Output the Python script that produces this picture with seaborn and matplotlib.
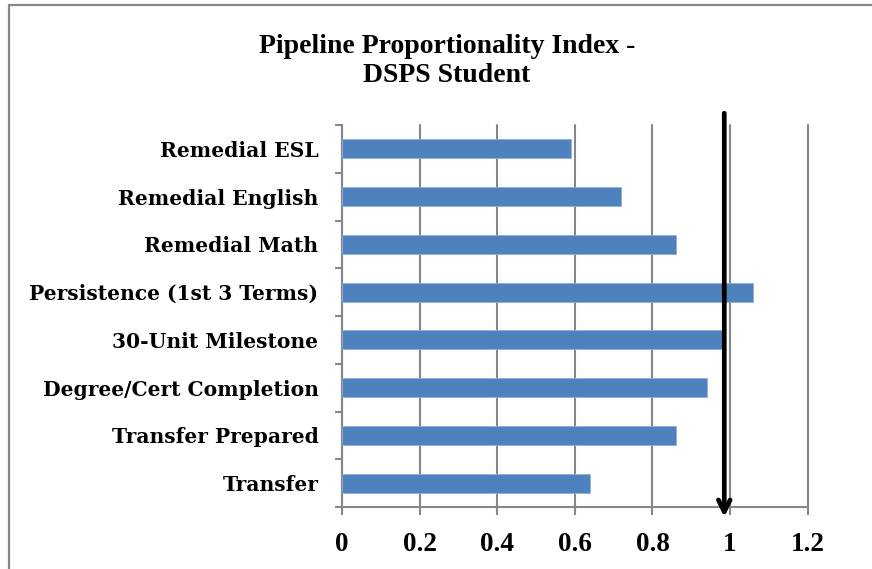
import matplotlib
matplotlib.use("Agg")
import matplotlib.pyplot as plt
import seaborn as sns
import numpy as np
from matplotlib.lines import Line2D

categories = ["Remedial ESL", "Remedial English", "Remedial Math",
              "Persistence (1st 3 Terms)", "30-Unit Milestone",
              "Degree/Cert Completion", "Transfer Prepared", "Transfer"]
values = [0.59, 0.72, 0.86, 1.06, 0.98, 0.94, 0.86, 0.64]
xticks = [0, 0.2, 0.4, 0.6, 0.8, 1, 1.2]
xtick_labels = ["0", "0.2", "0.4", "0.6", "0.8", "1", "1.2"]
title = "Pipeline Proportionality Index -\nDSPS Student"
arrow_x = 0.985

sns.set_theme(style="white")
plt.rcParams['font.family'] = ['Liberation Serif', 'DejaVu Serif']
plt.rcParams['font.weight'] = 'bold'
plt.rcParams['text.color'] = 'black'
plt.rcParams['xtick.color'] = 'black'
plt.rcParams['ytick.color'] = 'black'

W, H = 872, 569
fig = plt.figure(figsize=(W / 100, H / 100), dpi=100)
ax = fig.add_axes([342 / W, 1 - 507 / H, (807.7 - 342) / W, (507 - 125) / H])

sns.barplot(x=values, y=categories, color="#4F81BD", width=0.4, ax=ax,
            saturation=1, edgecolor="#8FAEDB", linewidth=0.6, zorder=3)

grid_c = "#878787"
ax.set_xlim(0, 1.2)
ax.set_ylim(len(categories) - 0.5, -0.5)
ax.set_xticks(xticks)
ax.set_xticklabels(xtick_labels, fontsize=19.5, fontweight='bold', color='black')
ax.xaxis.grid(True, color=grid_c, linewidth=1.5, zorder=0)
ax.yaxis.grid(False)
ax.set_axisbelow(True)
for gl in ax.get_xgridlines():
    gl.set_clip_on(False)

# y: ticks at category boundaries, labels at centers
ax.set_yticks(np.arange(-0.5, len(categories), 1.0))
ax.set_yticklabels([])
ax.set_yticks(np.arange(len(categories)), minor=True)
ax.set_yticklabels(categories, minor=True, fontsize=14.6, fontweight='bold',
                   family=['DejaVu Serif'], color='black')
ax.tick_params(axis='y', which='major', length=5, width=1.5, color=grid_c, left=True)
ax.tick_params(axis='y', which='minor', length=0, pad=17)
ax.tick_params(axis='x', length=6, width=1.5, color=grid_c, bottom=True, pad=12)
ax.set_xlabel("")
ax.set_ylabel("")

for s in ["top", "right"]:
    ax.spines[s].set_visible(False)
for s in ["left", "bottom"]:
    ax.spines[s].set_color(grid_c)
    ax.spines[s].set_linewidth(1.5)

# arrow
ax.annotate("", xy=(arrow_x, -0.026), xycoords=('data', 'axes fraction'),
            xytext=(arrow_x, 1.031), textcoords=('data', 'axes fraction'),
            arrowprops=dict(arrowstyle='->,head_length=0.7,head_width=0.35',
                            lw=3.4, color='black', shrinkA=0, shrinkB=0),
            annotation_clip=False, zorder=5)

fig.text(447 / W, 1 - 61 / H, title, ha='center', va='center', fontsize=20,
         fontweight='bold', linespacing=1.2, color='black')

# figure border (left and top)
fig.add_artist(Line2D([8.5 / W, 8.5 / W], [0, 1 - 5 / H], color="#888888", lw=1.6,
                      transform=fig.transFigure))
fig.add_artist(Line2D([8.5 / W, 1], [1 - 5 / H, 1 - 5 / H], color="#888888", lw=1.6,
                      transform=fig.transFigure))

fig.savefig("out.png", dpi=100)
